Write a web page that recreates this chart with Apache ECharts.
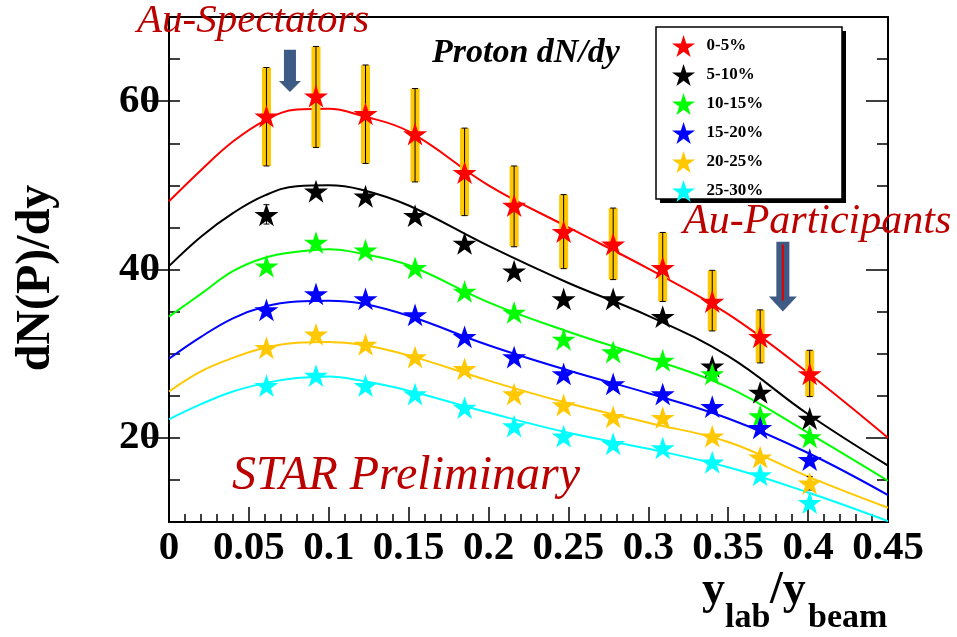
<!DOCTYPE html>
<html>
<head>
<meta charset="utf-8">
<script src="https://cdn.jsdelivr.net/npm/echarts@6/dist/echarts.min.js"></script>
<style>
html, body { margin: 0; padding: 0; background: #fff; }
#chart { width: 957px; height: 637px; }
</style>
</head>
<body>
<div id="chart"></div>
<script>
// centrality classes
var centNames = ['0-5%', '5-10%', '10-15%', '15-20%', '20-25%', '25-30%'];
var centColors = ['#ff0000', '#000000', '#00ff00', '#0000ff', '#ffc800', '#00ffff'];

// measured points (x = y_lab / y_beam)
var xPts = [0.061, 0.092, 0.123, 0.154, 0.185, 0.216, 0.247, 0.278, 0.309, 0.340, 0.370, 0.401];
var yld_0_5   = [58.2, 60.6, 58.5, 56.1, 51.5, 47.6, 44.5, 43.0, 40.2, 36.2, 32.0, 27.6];
var yld_5_10  = [46.5, 49.3, 48.7, 46.4, 43.1, 39.8, 36.5, 36.5, 34.4, 28.5, 25.4, 22.3];
var yld_10_15 = [40.4, 43.2, 42.3, 40.2, 37.4, 34.9, 31.7, 30.2, 29.2, 27.6, 22.6, 20.1];
var yld_15_20 = [35.2, 37.1, 36.5, 34.6, 32.0, 29.6, 27.6, 26.4, 25.2, 23.7, 21.2, 17.4];
var yld_20_25 = [30.7, 32.3, 31.1, 29.6, 28.2, 25.2, 23.9, 22.5, 22.4, 20.2, 17.7, 14.6];
var yld_25_30 = [26.2, 27.4, 26.2, 25.2, 23.6, 21.4, 20.2, 19.3, 18.8, 17.1, 15.6, 12.3];

// systematic band of the 0-5% class
var sysLo_0_5 = [52.3, 54.5, 52.6, 50.4, 46.4, 42.7, 40.1, 38.8, 36.2, 32.7, 28.9, 24.9];
var sysHi_0_5 = [64.0, 66.5, 64.3, 61.5, 56.8, 52.3, 48.9, 47.3, 44.4, 39.9, 35.2, 30.4];

// the few statistical errors that stick out of the markers
var statX  = [0.061, 0.401];
var statLo = [45.4, 13.8];
var statHi = [47.7, 15.4];

// fit curves
var fitX      = [0, 0.02, 0.04, 0.06, 0.08, 0.1, 0.12, 0.15, 0.2, 0.25, 0.3, 0.35, 0.4, 0.45];
var fit_0_5   = [48.1, 51.8, 55.2, 57.7, 59.0, 59.1, 58.3, 56.4, 50.0, 45.0, 40.1, 34.7, 27.7, 20.0];
var fit_5_10  = [40.4, 43.9, 46.7, 48.8, 49.9, 50.0, 49.5, 47.6, 42.8, 38.4, 34.5, 29.7, 22.8, 16.7];
var fit_10_15 = [34.4, 37.1, 39.8, 41.4, 42.1, 42.4, 41.9, 40.5, 36.1, 32.6, 29.5, 26.0, 20.6, 14.9];
var fit_15_20 = [29.4, 32.0, 34.2, 35.6, 36.2, 36.3, 36.0, 34.5, 31.0, 28.0, 25.3, 22.3, 18.2, 13.2];
var fit_20_25 = [25.5, 27.9, 29.5, 30.7, 31.3, 31.4, 31.1, 29.8, 26.8, 24.1, 21.8, 19.5, 15.4, 11.7];
var fit_25_30 = [22.2, 24.0, 25.5, 26.5, 27.1, 27.3, 26.8, 25.6, 23.0, 20.6, 18.7, 16.5, 13.5, 10.1];

var yTickLabels = [20, 40, 60];

var yields = [yld_0_5, yld_5_10, yld_10_15, yld_15_20, yld_20_25, yld_25_30];
var fits = [fit_0_5, fit_5_10, fit_10_15, fit_15_20, fit_20_25, fit_25_30];

var SERIF = '"Liberation Serif", "DejaVu Serif", serif';
var DARKRED = '#bb0000';
var ARROW = '#3d5b84';
var STAR = 'path://M50,0 L61.2,34.5 L97.6,34.5 L68.2,55.9 L79.4,90.5 L50,69.1 L20.6,90.5 L31.8,55.9 L2.4,34.5 L38.8,34.5 Z';

function zip(xs, ys) {
    var out = [];
    for (var i = 0; i < xs.length; i++) out.push([xs[i], ys[i]]);
    return out;
}

function errData(xs, lo, hi) {
    var out = [];
    for (var i = 0; i < xs.length; i++) out.push([xs[i], lo[i], hi[i]]);
    return out;
}

function errorBar(withBand) {
    return function (params, api) {
        var top = api.coord([api.value(0), api.value(2)]);
        var bot = api.coord([api.value(0), api.value(1)]);
        var x = top[0];
        var kids = [];
        if (withBand) {
            kids.push({type: 'rect', shape: {x: x - 4.5, y: top[1], width: 9, height: bot[1] - top[1]},
                       style: {fill: '#ffc800'}});
        }
        kids.push({type: 'line', shape: {x1: x, y1: top[1], x2: x, y2: bot[1]}, style: {stroke: '#000', lineWidth: 1}});
        kids.push({type: 'line', shape: {x1: x - 3, y1: top[1], x2: x + 3, y2: top[1]}, style: {stroke: '#000', lineWidth: 1}});
        kids.push({type: 'line', shape: {x1: x - 3, y1: bot[1], x2: x + 3, y2: bot[1]}, style: {stroke: '#000', lineWidth: 1}});
        return {type: 'group', children: kids};
    };
}

var series = [];
for (var i = 0; i < fits.length; i++) {
    series.push({
        type: 'line', data: zip(fitX, fits[i]), smooth: 0.4, showSymbol: false, symbol: 'none',
        lineStyle: {color: centColors[i], width: 2}, z: 2, silent: true
    });
}
series.push({type: 'custom', renderItem: errorBar(true), data: errData(xPts, sysLo_0_5, sysHi_0_5),
             encode: {x: 0, y: [1, 2]}, z: 3, silent: true});
series.push({type: 'custom', renderItem: errorBar(false), data: errData(statX, statLo, statHi),
             encode: {x: 0, y: [1, 2]}, z: 3, silent: true});
for (var j = 0; j < yields.length; j++) {
    series.push({
        name: centNames[j], type: 'scatter', data: zip(xPts, yields[j]),
        symbol: STAR, symbolSize: 24, symbolKeepAspect: true,
        itemStyle: {color: centColors[j], opacity: 1}, z: 5
    });
}

var frame = {show: true, lineStyle: {color: '#000', width: 2}};

var chart = echarts.init(document.getElementById('chart'));
chart.setOption({
    animation: false,
    backgroundColor: '#fff',
    grid: {left: 169, right: 69, top: 17, bottom: 115},
    xAxis: [{
        type: 'value', min: 0, max: 0.45, interval: 0.05,
        axisLine: frame,
        axisTick: {inside: true, length: 15, lineStyle: {color: '#000', width: 1.5}},
        minorTick: {show: true, splitNumber: 5, length: 8, lineStyle: {color: '#000', width: 1.5}},
        axisLabel: {color: '#000', fontFamily: SERIF, fontWeight: 'bold', fontSize: 41, margin: 6,
                    showMinLabel: true, showMaxLabel: true},
        splitLine: {show: false}
    }, {
        type: 'value', position: 'top', min: 0, max: 0.45,
        axisLine: frame, axisTick: {show: false}, axisLabel: {show: false}, splitLine: {show: false}
    }],
    yAxis: [{
        type: 'value', min: 10, max: 70, interval: 5,
        axisLine: frame,
        axisTick: {inside: true, length: 11, lineStyle: {color: '#000', width: 1.5}},
        axisLabel: {customValues: yTickLabels, color: '#000', fontFamily: SERIF, fontWeight: 'bold',
                    fontSize: 41, margin: 9},
        splitLine: {show: false}
    }, {
        type: 'value', min: 10, max: 70,
        axisLine: {show: false},
        axisTick: {customValues: yTickLabels, inside: true, length: 22, lineStyle: {color: '#000', width: 1.5}},
        axisLabel: {show: false}, splitLine: {show: false}
    }, {
        type: 'value', position: 'right', min: 10, max: 70, interval: 5,
        axisLine: frame,
        axisTick: {inside: true, length: 11, lineStyle: {color: '#000', width: 1.5}},
        axisLabel: {show: false}, splitLine: {show: false}
    }, {
        type: 'value', position: 'right', min: 10, max: 70,
        axisLine: {show: false},
        axisTick: {customValues: yTickLabels, inside: true, length: 22, lineStyle: {color: '#000', width: 1.5}},
        axisLabel: {show: false}, splitLine: {show: false}
    }],
    legend: {
        data: centNames, orient: 'vertical', left: 667, top: 30,
        itemWidth: 24, itemHeight: 22, itemGap: 7, z: 10,
        textStyle: {color: '#000', fontFamily: SERIF, fontWeight: 'bold', fontSize: 17, padding: [0, 0, 0, 6]}
    },
    series: series
});

// arrows are placed in data coordinates
function arrow(xv, yTop, yNeck, yTip, shaftW, headW) {
    var t = chart.convertToPixel({gridIndex: 0}, [xv, yTop]);
    var n = chart.convertToPixel({gridIndex: 0}, [xv, yNeck]);
    var p = chart.convertToPixel({gridIndex: 0}, [xv, yTip]);
    var cx = t[0], s = shaftW / 2, h = headW / 2;
    return {
        type: 'polygon', z: 20,
        shape: {points: [[cx - s, t[1]], [cx + s, t[1]], [cx + s, n[1]], [cx + h, n[1]], [cx, p[1]],
                         [cx - h, n[1]], [cx - s, n[1]]]},
        style: {fill: ARROW}
    };
}

function txt(str, x, y, size, color, style, weight, rot) {
    return {
        type: 'text', x: x, y: y, rotation: rot || 0, z: 30,
        style: {text: str, fill: color, align: rot ? 'center' : 'left', verticalAlign: 'middle',
                font: (style || 'normal') + ' ' + (weight || 'normal') + ' ' + size + 'px ' + SERIF}
    };
}

var pTop = chart.convertToPixel({gridIndex: 0}, [0.3842, 43.0]);
var pBot = chart.convertToPixel({gridIndex: 0}, [0.3842, 36.3]);

chart.setOption({
    graphic: [
        {type: 'rect', z: 1, shape: {x: 660, y: 31, width: 186, height: 172}, style: {fill: '#000'}},
        {type: 'rect', z: 2, shape: {x: 656, y: 27, width: 186, height: 172},
         style: {fill: '#fff', stroke: '#000', lineWidth: 1.5}},
        arrow(0.0757, 66.1, 62.4, 61.1, 12, 22),
        arrow(0.3842, 43.3, 36.8, 35.0, 13, 28),
        {type: 'line', z: 21, shape: {x1: pTop[0], y1: pTop[1], x2: pBot[0], y2: pBot[1]},
         style: {stroke: '#e00000', lineWidth: 2}},
        txt('Au-Spectators', 137, 21, 41, DARKRED, 'italic'),
        txt('Proton dN/dy', 432, 53, 34, '#000', 'italic', 'bold'),
        txt('STAR Preliminary', 232, 476, 48, DARKRED, 'italic'),
        txt('Au-Participants', 683, 222, 42, DARKRED, 'italic'),
        txt('dN(P)/dy', 37, 278, 48, '#000', 'normal', 'bold', Math.PI / 2),
        txt('y', 702, 591, 46, '#000', 'normal', 'bold'),
        txt('lab', 725, 618, 34, '#000', 'normal', 'bold'),
        txt('/y', 770, 591, 46, '#000', 'normal', 'bold'),
        txt('beam', 808, 618, 34, '#000', 'normal', 'bold')
    ]
});
</script>
</body>
</html>
